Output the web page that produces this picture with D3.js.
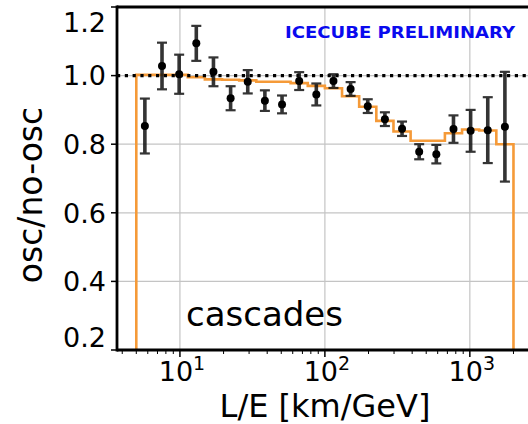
<!DOCTYPE html>
<html>
<head>
<meta charset="utf-8">
<script src="https://cdn.jsdelivr.net/npm/d3@7"></script>
<style>
  body { margin: 0; background: #fff; }
  svg { display: block; }
  text { font-family: "DejaVu Sans", sans-serif; fill: #000; }
</style>
</head>
<body>
<div id="chart"></div>
<script>

// L/E bin edges (km/GeV), 22 log bins from 5 to 2000
var binEdges = [5.00, 6.565, 8.620, 11.32, 14.86, 19.52, 25.63, 33.64, 44.18, 58.01, 76.18,
    100.0, 131.3, 172.4, 226.4, 297.3, 390.3, 512.5, 672.9, 883.6, 1160.3, 1523.1, 2000];

// measured osc/no-osc ratio and its error per bin
var dataRatio = [0.853, 1.028, 1.004, 1.094, 1.011, 0.934, 0.982, 0.927, 0.916, 0.984, 0.945,
    0.984, 0.961, 0.911, 0.873, 0.845, 0.778, 0.771, 0.844, 0.839, 0.841, 0.851];
var dataErr = [0.080, 0.068, 0.057, 0.051, 0.042, 0.035, 0.034, 0.030, 0.026, 0.026, 0.032,
    0.020, 0.020, 0.020, 0.020, 0.021, 0.022, 0.027, 0.040, 0.061, 0.096, 0.160];

// expected ratio (orange step histogram)
var mcRatio = [1.002, 1.002, 1.002, 0.995, 0.989, 0.988, 0.986, 0.982, 0.982, 0.978, 0.970,
    0.963, 0.940, 0.909, 0.868, 0.837, 0.810, 0.810, 0.832, 0.843, 0.840, 0.800];

// ticks
var yTicks = [0.2, 0.4, 0.6, 0.8, 1.0, 1.2];
var yTickLabels = ["0.2", "0.4", "0.6", "0.8", "1.0", "1.2"];
var xTicks = [10, 100, 1000];
var xTickExp = ["1", "2", "3"];

var svgWidth = 528;
var svgHeight = 424;

// plot area (right edge runs past the picture, as in the original crop)
var plotLeft = 117, plotTop = 7, plotBottom = 350, plotRight = 539;

var svg = d3.select("#chart").append("svg")
    .attr("width", svgWidth)
    .attr("height", svgHeight);

var xScale = d3.scaleLog()
    .domain([3.68, 3000])
    .range([plotLeft, plotRight]);

var yScale = d3.scaleLinear()
    .domain([0.2, 1.2])
    .range([plotBottom, plotTop]);

svg.append("clipPath").attr("id", "plotClip")
    .append("rect")
    .attr("x", plotLeft).attr("y", plotTop)
    .attr("width", plotRight - plotLeft).attr("height", plotBottom - plotTop);

var plot = svg.append("g").attr("clip-path", "url(#plotClip)");

// grid
plot.selectAll(".hgrid").data(yTicks).enter().append("line")
    .attr("x1", plotLeft).attr("x2", plotRight)
    .attr("y1", d => yScale(d)).attr("y2", d => yScale(d))
    .attr("stroke", "#c4c4c4").attr("stroke-width", 1.2);

plot.selectAll(".vgrid").data(xTicks).enter().append("line")
    .attr("x1", d => xScale(d)).attr("x2", d => xScale(d))
    .attr("y1", plotTop).attr("y2", plotBottom)
    .attr("stroke", "#c4c4c4").attr("stroke-width", 1.2);

// orange expectation as a step line down to the axis floor
var stepPts = [[binEdges[0], 0.2]];
mcRatio.forEach(function (v, i) {
    stepPts.push([binEdges[i], v]);
    stepPts.push([binEdges[i + 1], v]);
});
stepPts.push([binEdges[binEdges.length - 1], 0.2]);

var line = d3.line()
    .x(d => xScale(d[0]))
    .y(d => yScale(d[1]));

plot.append("path")
    .datum(stepPts)
    .attr("d", line)
    .attr("fill", "none")
    .attr("stroke", "#f59a38")
    .attr("stroke-width", 2.6);

// dotted no-oscillation line
plot.append("line")
    .attr("x1", plotLeft).attr("x2", plotRight)
    .attr("y1", yScale(1.0)).attr("y2", yScale(1.0))
    .attr("stroke", "#000")
    .attr("stroke-width", 3.2)
    .attr("stroke-dasharray", "3.2,4.6");

// data points with error bars
var points = dataRatio.map(function (v, i) {
    return { x: Math.sqrt(binEdges[i] * binEdges[i + 1]), y: v, e: dataErr[i] };
});

var bars = plot.selectAll(".ebar").data(points).enter().append("g")
    .attr("opacity", 0.85);

bars.append("line")
    .attr("x1", d => xScale(d.x)).attr("x2", d => xScale(d.x))
    .attr("y1", d => yScale(d.y - d.e)).attr("y2", d => yScale(d.y + d.e))
    .attr("stroke", "#111").attr("stroke-width", 3.6);

bars.append("line")
    .attr("x1", d => xScale(d.x) - 5).attr("x2", d => xScale(d.x) + 5)
    .attr("y1", d => yScale(d.y + d.e)).attr("y2", d => yScale(d.y + d.e))
    .attr("stroke", "#111").attr("stroke-width", 2.2);

bars.append("line")
    .attr("x1", d => xScale(d.x) - 5).attr("x2", d => xScale(d.x) + 5)
    .attr("y1", d => yScale(d.y - d.e)).attr("y2", d => yScale(d.y - d.e))
    .attr("stroke", "#111").attr("stroke-width", 2.2);

plot.selectAll(".pt").data(points).enter().append("circle")
    .attr("cx", d => xScale(d.x))
    .attr("cy", d => yScale(d.y))
    .attr("r", 4)
    .attr("fill", "#000");

// spines
svg.append("line")
    .attr("x1", plotLeft).attr("x2", plotLeft)
    .attr("y1", plotTop - 1.4).attr("y2", plotBottom + 1.4)
    .attr("stroke", "#000").attr("stroke-width", 2.8);
svg.append("line")
    .attr("x1", plotLeft).attr("x2", svgWidth)
    .attr("y1", plotBottom).attr("y2", plotBottom)
    .attr("stroke", "#000").attr("stroke-width", 2.8);
svg.append("line")
    .attr("x1", plotLeft).attr("x2", svgWidth)
    .attr("y1", plotTop).attr("y2", plotTop)
    .attr("stroke", "#000").attr("stroke-width", 2.8);

// y ticks and labels (edge labels sit inside the frame)
var yNudge = { "1.2": 15, "0.2": -13 };
svg.selectAll(".ytick").data(yTicks).enter().append("line")
    .attr("x1", plotLeft - 6).attr("x2", plotLeft)
    .attr("y1", d => yScale(d)).attr("y2", d => yScale(d))
    .attr("stroke", "#000").attr("stroke-width", 1.5);

svg.selectAll(".ylab").data(yTicks).enter().append("text")
    .attr("x", plotLeft - 11)
    .attr("y", (d, i) => yScale(d) + (yNudge[yTickLabels[i]] || 0))
    .attr("dy", "0.36em")
    .attr("text-anchor", "end")
    .attr("font-size", "27px")
    .text((d, i) => yTickLabels[i]);

// x ticks: majors and log minors
var minorTicks = [];
[1, 10, 100, 1000].forEach(function (dec) {
    for (var m = 2; m <= 9; m++) minorTicks.push(dec * m);
});
minorTicks = minorTicks.filter(d => d > 3.68 && d < 3000);

svg.selectAll(".xminor").data(minorTicks).enter().append("line")
    .attr("x1", d => xScale(d)).attr("x2", d => xScale(d))
    .attr("y1", plotBottom).attr("y2", plotBottom + 4)
    .attr("stroke", "#000").attr("stroke-width", 1);

svg.selectAll(".xmajor").data(xTicks).enter().append("line")
    .attr("x1", d => xScale(d)).attr("x2", d => xScale(d))
    .attr("y1", plotBottom).attr("y2", plotBottom + 7)
    .attr("stroke", "#000").attr("stroke-width", 1.5);

var xlab = svg.selectAll(".xlab").data(xTicks).enter().append("text")
    .attr("x", d => xScale(d) + 2)
    .attr("y", 381)
    .attr("text-anchor", "middle")
    .attr("font-size", "27px");
xlab.append("tspan").text("10");
xlab.append("tspan")
    .attr("dy", -11)
    .attr("font-size", "19px")
    .text((d, i) => xTickExp[i]);

// axis titles
svg.append("text")
    .attr("x", 325)
    .attr("y", 417)
    .attr("text-anchor", "middle")
    .attr("font-size", "32px")
    .text("L/E [km/GeV]");

svg.append("text")
    .attr("transform", "translate(42, 195) rotate(-90)")
    .attr("text-anchor", "middle")
    .attr("font-size", "33px")
    .text("osc/no-osc");

// annotations
svg.append("text")
    .attr("x", 186)
    .attr("y", 326)
    .attr("font-family", "'Liberation Sans', Arial, sans-serif")
    .attr("font-size", "34px")
    .text("cascades");

svg.append("text")
    .attr("x", 285)
    .attr("y", 38)
    .attr("font-size", "16px")
    .attr("font-weight", "bold")
    .attr("textLength", 230)
    .attr("lengthAdjust", "spacingAndGlyphs")
    .style("fill", "#0a0aee")
    .text("ICECUBE PRELIMINARY");

</script>
</body>
</html>
